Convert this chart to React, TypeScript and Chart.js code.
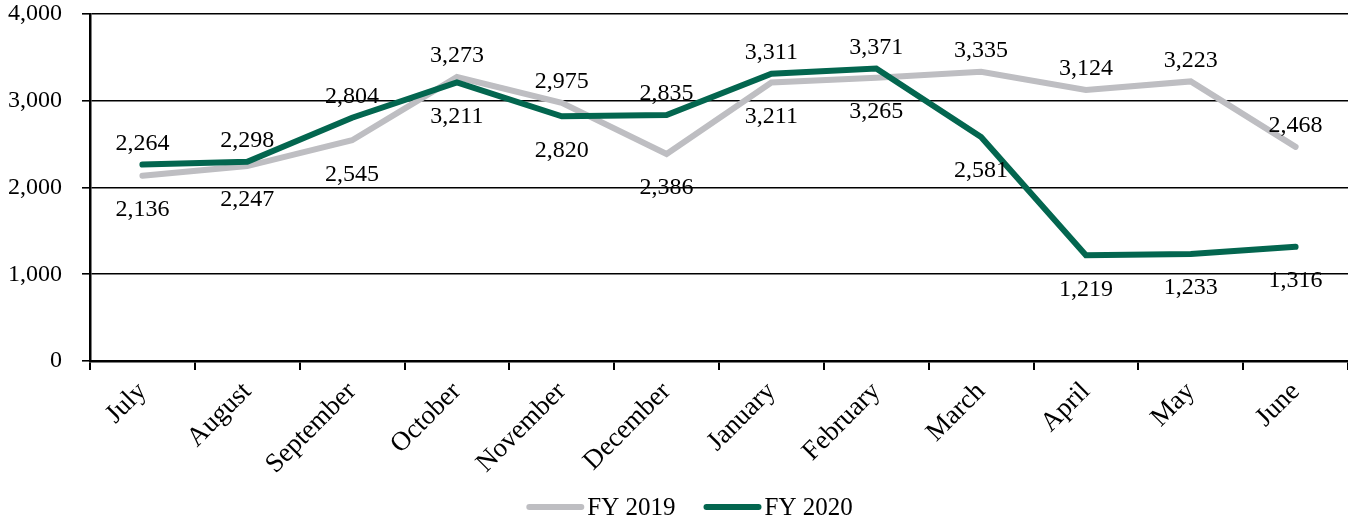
import React, { useEffect, useRef } from "react";
import { Chart, registerables } from "chart.js";

Chart.register(...registerables);

const months = [
  "July", "August", "September", "October", "November", "December",
  "January", "February", "March", "April", "May", "June",
];
const fy2019 = [2136, 2247, 2545, 3273, 2975, 2386, 3211, 3265, 3335, 3124, 3223, 2468];
const fy2020 = [2264, 2298, 2804, 3211, 2820, 2835, 3311, 3371, 2581, 1219, 1233, 1316];
const seriesNames = ["FY 2019", "FY 2020"];
const yTicks = [0, 1000, 2000, 3000, 4000];

const GREY = "#BEBEC2";
const GREEN = "#03664F";
const FONT = "'Liberation Serif', 'Times New Roman', serif";

const fmt = (v: number) => v.toLocaleString("en-US");

const labelPlugin = {
  id: "valueLabels",
  afterDatasetsDraw(chart: any) {
    const ctx = chart.ctx;
    const m0 = chart.getDatasetMeta(0);
    const m1 = chart.getDatasetMeta(1);
    ctx.save();
    ctx.font = `24px ${FONT}`;
    ctx.fillStyle = "#000";
    ctx.textAlign = "center";
    ctx.textBaseline = "middle";
    for (let i = 0; i < months.length; i++) {
      const a = fy2019[i];
      const b = fy2020[i];
      const pa = m0.data[i];
      const pb = m1.data[i];
      const hi = a >= b ? { v: a, p: pa } : { v: b, p: pb };
      const lo = a >= b ? { v: b, p: pb } : { v: a, p: pa };
      ctx.fillText(fmt(hi.v), hi.p.x, hi.p.y - 21);
      ctx.fillText(fmt(lo.v), lo.p.x, lo.p.y + 34);
    }
    ctx.restore();
  },
};

const legendPlugin = {
  id: "lineLegend",
  afterDraw(chart: any) {
    const ctx = chart.ctx;
    const colors = [GREY, GREEN];
    ctx.save();
    ctx.font = `25px ${FONT}`;
    const sw = 58;
    const gap = 3;
    const itemGap = 28;
    const widths = seriesNames.map((n) => ctx.measureText(n).width);
    const total = widths.reduce((s, w) => s + sw + gap + w, 0) + itemGap * (seriesNames.length - 1);
    let x = chart.width * 0.5115 - total / 2;
    const y = 507;
    seriesNames.forEach((n, i) => {
      ctx.strokeStyle = colors[i];
      ctx.lineWidth = 6;
      ctx.lineCap = "round";
      ctx.beginPath();
      ctx.moveTo(x + 3, y);
      ctx.lineTo(x + sw - 3, y);
      ctx.stroke();
      ctx.fillStyle = "#000";
      ctx.textAlign = "left";
      ctx.textBaseline = "middle";
      ctx.fillText(n, x + sw + gap, y + 1);
      x += sw + gap + widths[i] + itemGap;
    });
    ctx.restore();
  },
};

export default function App() {
  const ref = useRef<HTMLCanvasElement | null>(null);
  useEffect(() => {
    document.body.style.margin = "0";
    if (!ref.current) return;
    const chart = new Chart(ref.current, {
      type: "line",
      data: {
        labels: months,
        datasets: [
          {
            label: seriesNames[0],
            data: fy2019,
            borderColor: GREY,
            backgroundColor: GREY,
            borderWidth: 6,
            pointRadius: 0,
            tension: 0,
            borderCapStyle: "round",
            order: 1,
          },
          {
            label: seriesNames[1],
            data: fy2020,
            borderColor: GREEN,
            backgroundColor: GREEN,
            borderWidth: 6,
            pointRadius: 0,
            tension: 0,
            borderCapStyle: "round",
            order: 0,
          },
        ],
      },
      options: {
        responsive: false,
        animation: false,
        layout: { padding: { top: 14, right: 0, bottom: 40, left: 0 } },
        plugins: {
          legend: { display: false },
          tooltip: { enabled: false },
        },
        scales: {
          x: {
            offset: true,
            grid: {
              offset: true,
              drawOnChartArea: false,
              drawTicks: true,
              tickLength: 9,
              color: "#000",
              lineWidth: 2,
            },
            border: { color: "#000", width: 2.5 },
            ticks: {
              maxRotation: 45,
              minRotation: 45,
              color: "#000",
              font: { family: FONT, size: 27 },
              padding: 6,
            },
            afterFit: (s: any) => {
              s.height = 120;
              s.paddingLeft = 0;
              s.paddingRight = 0;
            },
          },
          y: {
            min: yTicks[0],
            max: yTicks[yTicks.length - 1],
            afterBuildTicks: (s: any) => {
              s.ticks = yTicks.map((v) => ({ value: v }));
            },
            grid: {
              color: "#000",
              lineWidth: 1.6,
              tickLength: 8,
              drawTicks: true,
            },
            border: { color: "#000", width: 2.5 },
            ticks: {
              color: "#000",
              font: { family: FONT, size: 24 },
              padding: 20,
              callback: (v: any) => fmt(Number(v)),
            },
            afterFit: (s: any) => {
              s.width = 90;
              s.paddingTop = 0;
              s.paddingBottom = 0;
            },
          },
        },
      },
      plugins: [labelPlugin, legendPlugin],
    });
    return () => chart.destroy();
  }, []);
  return (
    <div style={{ width: 1348, height: 521 }}>
      <canvas ref={ref} width={1348} height={521} style={{ display: "block" }} />
    </div>
  );
}
